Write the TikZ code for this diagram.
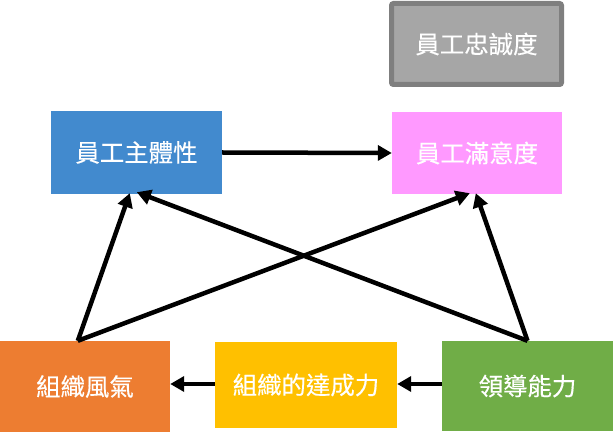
\documentclass[tikz,border=0pt]{standalone}
\usepackage{fontspec}
\setmainfont{Noto Sans CJK TC}
\newfontfamily\boxfont{Noto Sans CJK TC}[UprightFeatures={FakeBold=0.35}]
\usepackage{tikz}
\usetikzlibrary{arrows.meta}
\tikzset{>={Triangle[length=14bp,width=15bp]}}
\definecolor{boxblue}{RGB}{66,138,206}
\definecolor{boxpink}{RGB}{255,153,255}
\definecolor{boxgray}{RGB}{166,166,166}
\definecolor{linegray}{RGB}{127,127,127}
\definecolor{boxorange}{RGB}{237,125,49}
\definecolor{boxyellow}{RGB}{255,192,0}
\definecolor{boxgreen}{RGB}{112,173,71}

\begin{document}
\begin{tikzpicture}[x=1bp,y=-1bp]
      \tikzstyle{factor}=[rectangle,inner sep=0pt,text=white,font=\boxfont\fontsize{24.5}{28}\selectfont];
      \tikzstyle{link}=[line width=4.5bp,->];
      \useasboundingbox (0,0) rectangle (616,435);
      \node[factor,fill=boxgray,draw=linegray,line width=5bp,rounded corners=2bp,minimum width=170bp,minimum height=81bp] (loyal) at (476.5,44) {員工忠誠度};
      \node[factor,fill=boxblue,minimum width=171bp,minimum height=83bp] (subj) at (136.5,152.5) {員工主體性};
      \node[factor,fill=boxpink,minimum width=170bp,minimum height=82bp] (satis) at (477,153) {員工滿意度};
      \node[factor,fill=boxorange,minimum width=170bp,minimum height=91bp] (clim) at (85,386.5) {組織風氣};
      \node[factor,fill=boxyellow,minimum width=182bp,minimum height=86bp] (achv) at (306,385) {組織的達成力};
      \node[factor,fill=boxgreen,minimum width=171bp,minimum height=90bp] (lead) at (527.5,386) {領導能力};
    
      \draw[link](subj.east)--(satis.west);
      \draw[link](achv.west|-0,384)--(clim.east|-0,384);
      \draw[link](lead.west|-0,384)--(achv.east|-0,384);
      \draw[link]([xshift=78bp]clim.north west)--([xshift=79bp,yshift=1bp]subj.south west);
      \draw[link]([xshift=78bp]clim.north west)--([xshift=78bp,yshift=1bp]satis.south west);
      \draw[link](lead.north)--([xshift=86bp,yshift=2bp]subj.south west);
      \draw[link](lead.north)--([xshift=84bp,yshift=1bp]satis.south west);
    \end{tikzpicture}
\end{document}
